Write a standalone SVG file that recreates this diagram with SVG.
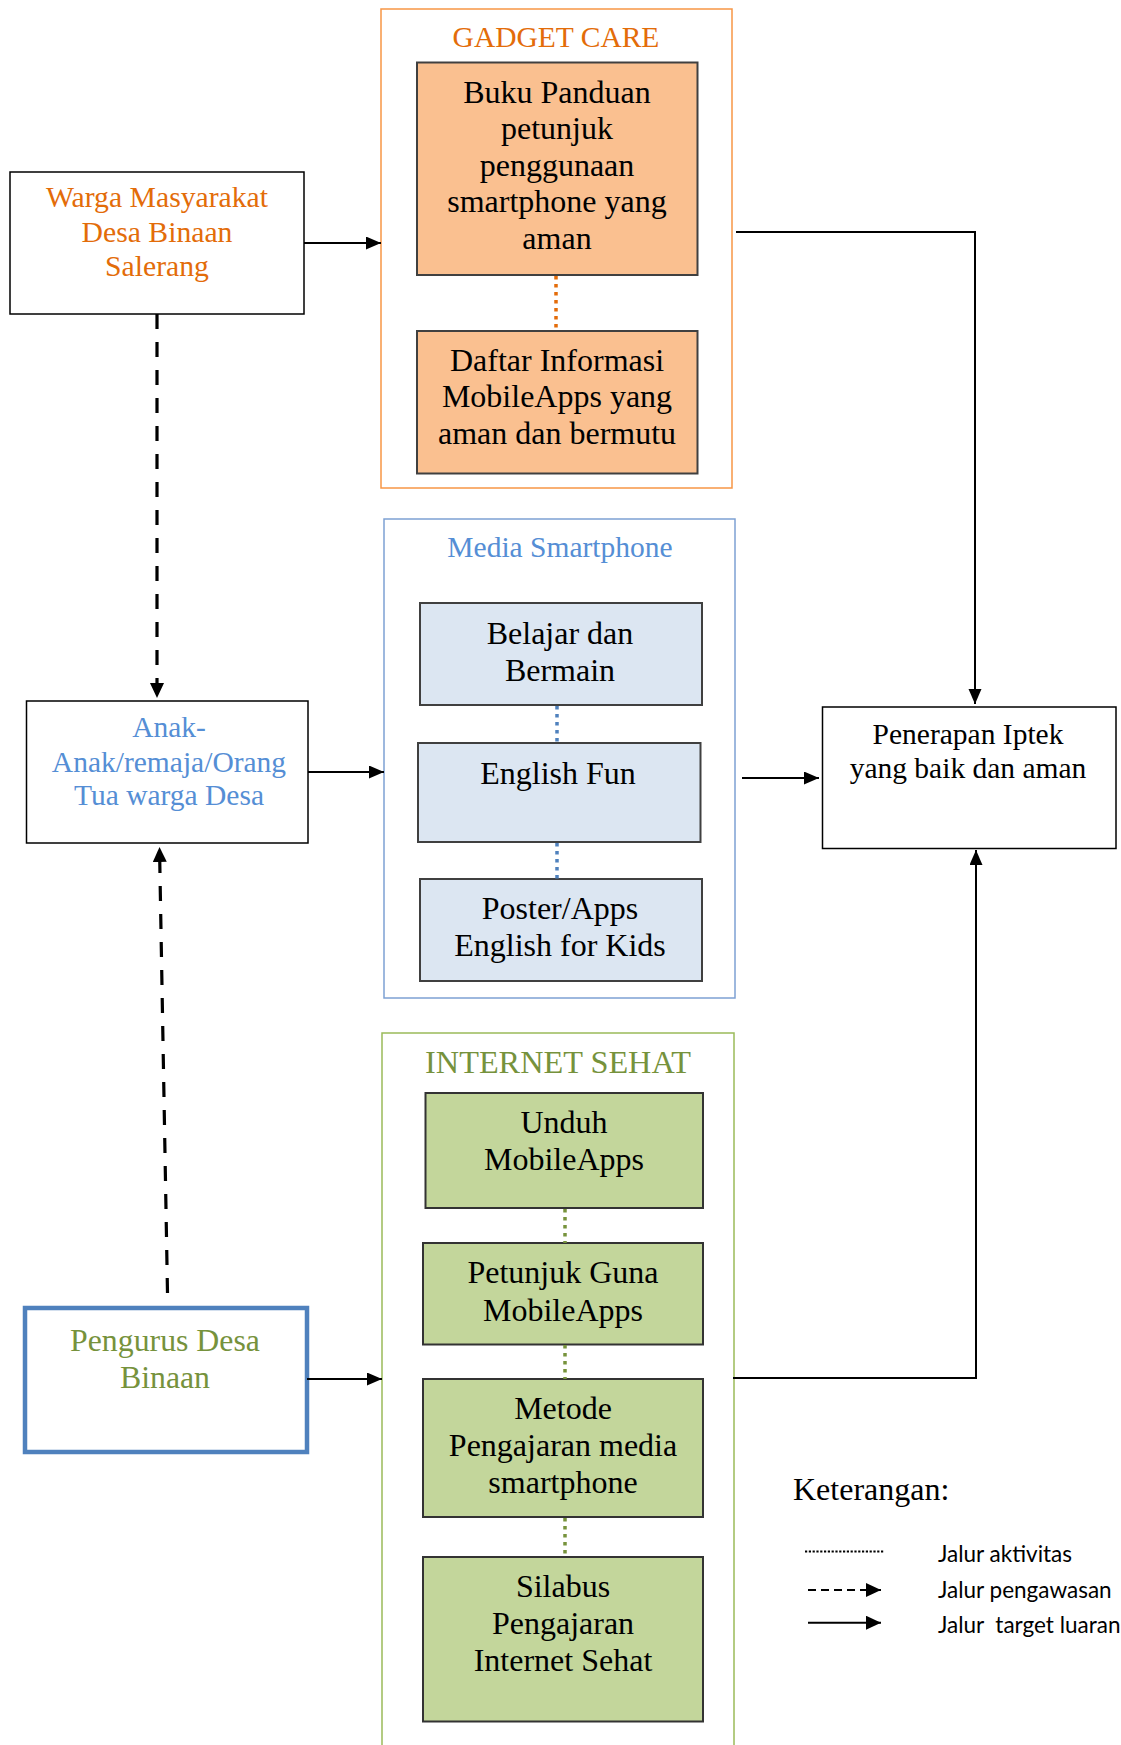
<svg xmlns="http://www.w3.org/2000/svg" width="1121" height="1745" viewBox="0 0 1121 1745">
<defs>
<marker id="ah" markerUnits="userSpaceOnUse" markerWidth="16" markerHeight="14" refX="15" refY="7" orient="auto">
<path d="M0,0 L15,7 L0,14 z" fill="#000"/>
</marker>
<marker id="ahs" markerUnits="userSpaceOnUse" markerWidth="16" markerHeight="14" refX="15" refY="6.5" orient="auto">
<path d="M0,0 L15,6.5 L0,13 z" fill="#000"/>
</marker>
</defs>
<style>
text{font-family:"Liberation Serif","Times New Roman",serif;text-anchor:middle}
.t32{font-size:32px;fill:#000}
.t29{font-size:29.5px}
.org{fill:#E36C09}
.blu{fill:#558ED5}
.grn{fill:#76923C}
.box{fill:#fff;stroke:#000;stroke-width:1.5}
.peach{fill:#FAC090;stroke:#404040;stroke-width:2}
.lblue{fill:#DCE6F2;stroke:#404040;stroke-width:2}
.lgrn{fill:#C3D69B;stroke:#333;stroke-width:2}
.cont{fill:#fff;stroke-width:1.5}
.arr{stroke:#000;stroke-width:2;fill:none}
.dash{stroke:#000;stroke-width:3.2;stroke-dasharray:15 13;fill:none}
.dot{stroke-width:3.5;stroke-dasharray:3.5 4.5;fill:none}
.leg{font-family:Lato,"Liberation Sans",sans-serif;font-size:22.5px;text-anchor:start;fill:#000;white-space:pre}
</style>

<g id="gadget-care">
<rect class="cont" x="381" y="9" width="351" height="479" stroke="#F79646"/>
<text class="t29 org" x="556" y="47">GADGET CARE</text>
</g>
<g id="buku-panduan">
<rect class="peach" x="417" y="62.5" width="280.5" height="212.5"/>
<text class="t32" x="557"><tspan x="557" y="102.5">Buku Panduan</tspan><tspan x="557" y="139">petunjuk</tspan><tspan x="557" y="175.7">penggunaan</tspan><tspan x="557" y="212.3">smartphone yang</tspan><tspan x="557" y="249">aman</tspan></text>
</g>
<g id="daftar-informasi">
<rect class="peach" x="417" y="331" width="280.5" height="142.5"/>
<text class="t32" x="557"><tspan x="557" y="370.5">Daftar Informasi</tspan><tspan x="557" y="407.2">MobileApps yang</tspan><tspan x="557" y="443.8">aman dan bermutu</tspan></text>
</g>

<g id="warga">
<rect class="box" x="10" y="172" width="294" height="142"/>
<text class="org" style="font-size:29.7px" x="157"><tspan x="157" y="207">Warga Masyarakat</tspan><tspan x="157" y="242">Desa Binaan</tspan><tspan x="157" y="276">Salerang</tspan></text>
</g>

<g id="anak">
<rect class="box" x="26.5" y="701" width="281.5" height="142"/>
<text class="t29 blu" x="169"><tspan x="169" y="737">Anak-</tspan><tspan x="169" y="772">Anak/remaja/Orang</tspan><tspan x="169" y="805">Tua warga Desa</tspan></text>
</g>

<g id="media-smartphone">
<rect class="cont" x="384" y="519" width="351" height="479" stroke="#7EA1D3"/>
<text class="t29 blu" x="560" y="557">Media Smartphone</text>
</g>
<g id="belajar">
<rect class="lblue" x="420" y="603" width="282" height="102"/>
<text class="t32" x="560"><tspan x="560" y="643.5">Belajar dan</tspan><tspan x="560" y="680.5">Bermain</tspan></text>
</g>
<g id="english-fun">
<rect class="lblue" x="418" y="743" width="282.5" height="99"/>
<text class="t32" x="558" y="783.5">English Fun</text>
</g>
<g id="poster">
<rect class="lblue" x="420" y="879" width="282" height="102"/>
<text class="t32" x="560"><tspan x="560" y="918.5">Poster/Apps</tspan><tspan x="560" y="955.5">English for Kids</tspan></text>
</g>

<g id="pengurus">
<rect x="25" y="1308" width="282" height="144" fill="#fff" stroke="#4F81BD" stroke-width="4.5"/>
<text class="t32 grn" x="165" style="font-size:31.8px"><tspan x="165" y="1351">Pengurus Desa</tspan><tspan x="165" y="1388">Binaan</tspan></text>
</g>

<g id="internet-sehat">
<rect class="cont" x="382" y="1033" width="352" height="800" stroke="#9BBB59"/>
<text class="grn" style="font-size:32.3px" x="558" y="1073">INTERNET SEHAT</text>
</g>
<g id="unduh">
<rect class="lgrn" x="425.5" y="1093" width="277.5" height="115"/>
<text class="t32" x="564"><tspan x="564" y="1133">Unduh</tspan><tspan x="564" y="1170">MobileApps</tspan></text>
</g>
<g id="petunjuk">
<rect class="lgrn" x="423" y="1243" width="280" height="101.5"/>
<text class="t32" x="563"><tspan x="563" y="1283">Petunjuk Guna</tspan><tspan x="563" y="1320.5">MobileApps</tspan></text>
</g>
<g id="metode">
<rect class="lgrn" x="423" y="1379" width="280" height="138"/>
<text class="t32" x="563"><tspan x="563" y="1418.5">Metode</tspan><tspan x="563" y="1455.5">Pengajaran media</tspan><tspan x="563" y="1492.5">smartphone</tspan></text>
</g>
<g id="silabus">
<rect class="lgrn" x="423" y="1557" width="280" height="164.5"/>
<text class="t32" x="563"><tspan x="563" y="1596.5">Silabus</tspan><tspan x="563" y="1633.5">Pengajaran</tspan><tspan x="563" y="1671">Internet Sehat</tspan></text>
</g>

<g id="penerapan">
<rect class="box" x="822.5" y="707" width="293.5" height="141.5"/>
<text class="t29" x="968" fill="#000"><tspan x="968" y="744">Penerapan Iptek</tspan><tspan x="968" y="778">yang baik dan aman</tspan></text>
</g>

<g id="connectors">
<line class="arr" x1="304" y1="243" x2="381" y2="243" marker-end="url(#ahs)"/>
<line class="arr" x1="308" y1="772" x2="384" y2="772" marker-end="url(#ahs)"/>
<line class="arr" x1="307" y1="1379" x2="382" y2="1379" marker-end="url(#ahs)"/>
<line class="arr" x1="742" y1="778" x2="819" y2="778" marker-end="url(#ahs)"/>
<path class="arr" d="M736,232 H975 V704" marker-end="url(#ahs)"/>
<path class="arr" d="M733,1378 H976 V850" marker-end="url(#ahs)"/>
<line class="dash" x1="157" y1="314" x2="157" y2="698" marker-end="url(#ah)"/>
<line class="dash" x1="167.5" y1="1293" x2="159.5" y2="847" marker-end="url(#ah)"/>
<line class="dot" x1="556" y1="276" x2="556" y2="331" stroke="#E46C0A"/>
<line class="dot" x1="557" y1="706" x2="557" y2="743" stroke="#4F81BD"/>
<line class="dot" x1="557" y1="843" x2="557" y2="879" stroke="#4F81BD"/>
<line class="dot" x1="565" y1="1209" x2="565" y2="1243" stroke="#77933C"/>
<line class="dot" x1="565" y1="1345" x2="565" y2="1379" stroke="#77933C"/>
<line class="dot" x1="565" y1="1518" x2="565" y2="1557" stroke="#77933C"/>
</g>

<g id="legend">
<text x="793" y="1500" style="font-size:32px;text-anchor:start" fill="#000">Keterangan:</text>
<line x1="805" y1="1551.5" x2="884" y2="1551.5" stroke="#000" stroke-width="2.2" stroke-dasharray="2.2 1.6"/>
<line x1="808" y1="1590" x2="881" y2="1590" stroke="#000" stroke-width="2" stroke-dasharray="8 5" marker-end="url(#ah)"/>
<line x1="808" y1="1622.7" x2="881" y2="1622.7" stroke="#000" stroke-width="2" marker-end="url(#ah)"/>
<text class="leg" x="938" y="1562">Jalur aktivitas</text>
<text class="leg" x="938" y="1598">Jalur pengawasan</text>
<text class="leg" x="938" y="1633" xml:space="preserve">Jalur  target luaran</text>
</g>
</svg>
